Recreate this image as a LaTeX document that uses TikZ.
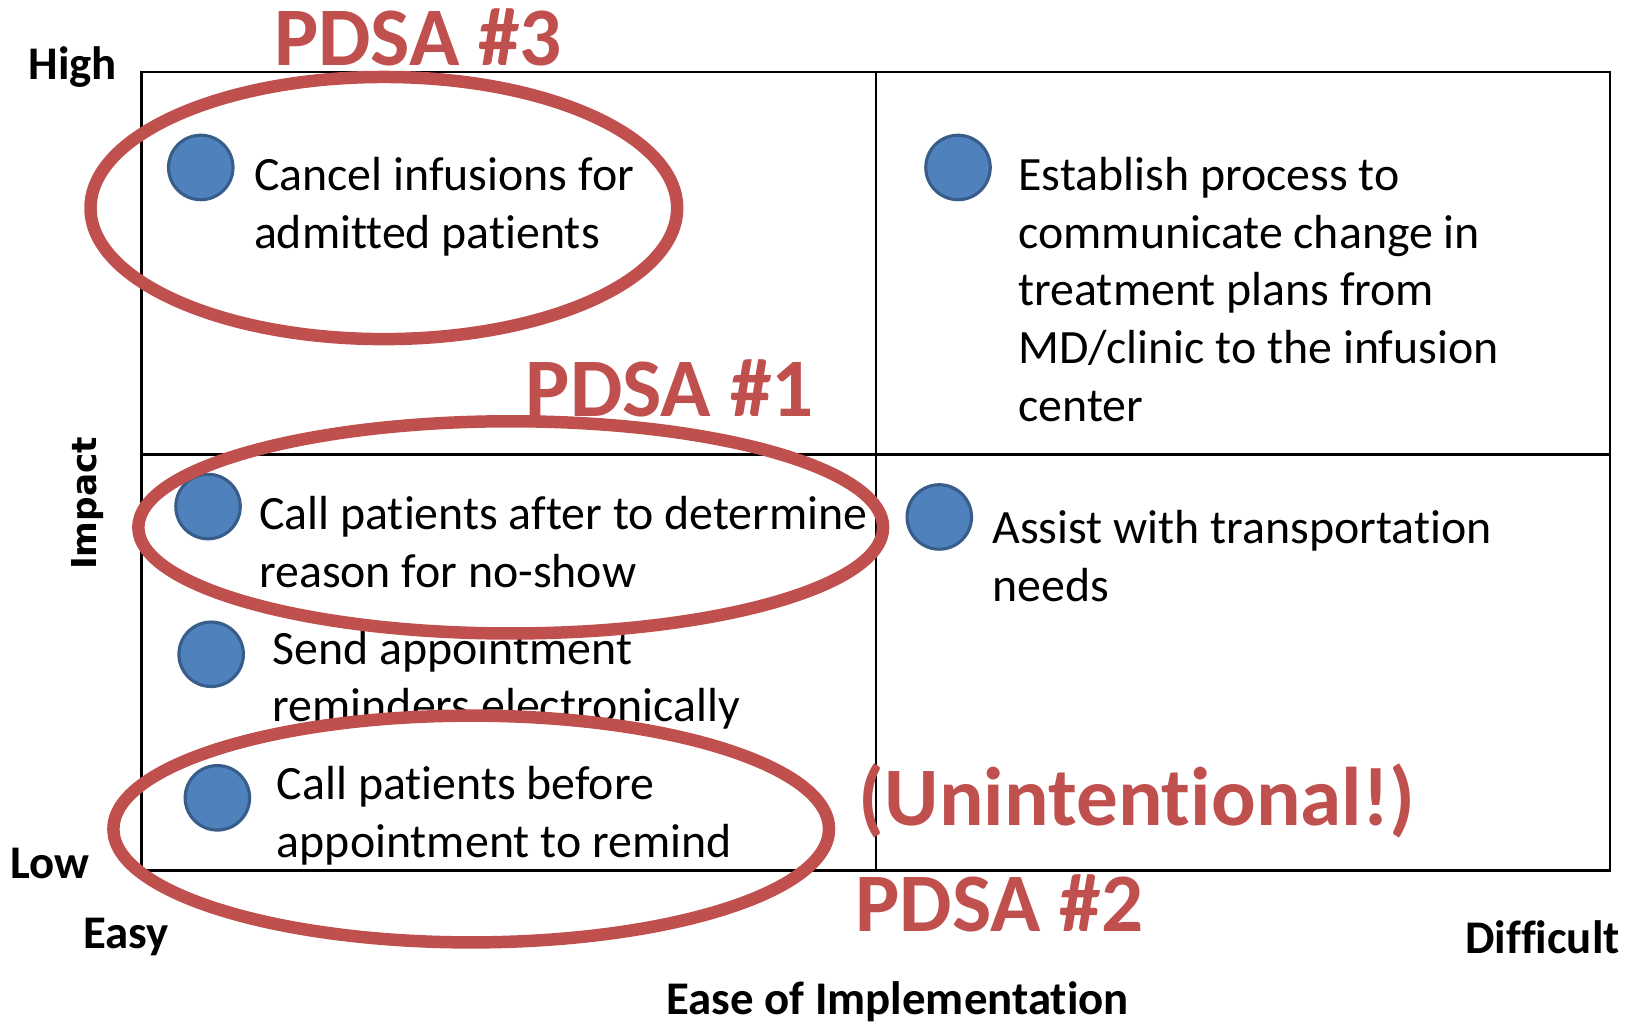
\documentclass[tikz,border=0pt]{standalone}
\usepackage{fontspec}
\setmainfont[Ligatures=NoCommon]{Carlito}
\newfontfamily\impactfont{DejaVu Sans}
\usetikzlibrary{positioning}

\definecolor{pdsared}{HTML}{C0504D}
\definecolor{dotblue}{HTML}{4F81BD}
\definecolor{dotrim}{HTML}{385D8A}

\begin{document}
\begin{tikzpicture}[x=1pt, y=-1pt,
    grid/.style = {line width=2.2pt},
    dot/.style = {circle, draw=dotrim, line width=3pt, fill=dotblue, minimum size=62pt, inner sep=0pt},
    idea/.style = {font=\fontsize{46}{55.5}\selectfont, align=left, inner sep=0pt, anchor=base west},
    loop/.style = {draw=pdsared, line width=12pt},
    pdsa/.style = {font=\fontsize{80}{80}\selectfont\bfseries, text=pdsared, inner sep=0pt},
    axis/.style = {font=\fontsize{45}{54}\selectfont\bfseries, inner sep=0pt}]

    \useasboundingbox (0,0) rectangle (1568,984);

    % Coordinates
    \coordinate (NW) at (136,69);
    \coordinate (SE) at (1548,837);
    \coordinate (N) at (842,69);
    \coordinate (S) at (842,837);
    \coordinate (W) at (136,437);
    \coordinate (E) at (1548,437);

    % Quadrants
    \draw [grid] (NW) rectangle (SE);
    \draw [grid] (N) -- (S);
    \draw [grid] (W) -- (E);

    % Ideas (anchored at the baseline of the last line)
    \node [dot] (d1) at (193,161) {};
    \node [idea] (t1) at (244,239) {Cancel infusions for\\admitted patients};
    \node [dot] (d2) at (921,161) {};
    \node [idea] (t2) at (979,405) {Establish process to\\communicate change in\\treatment plans from\\MD/clinic to the infusion\\center};
    \node [dot] (d3) at (200,487) {};
    \node [idea] (t3) at (249,565) {Call patients after to determine\\reason for no-show};
    \node [dot] (d4) at (903,497) {};
    \node [idea] (t4) at (954,578) {Assist with transportation\\needs};
    \node [dot] (d5) at (203,629) {};
    \node [idea] (t5) at (262,694) {Send appointment\\reminders electronically};
    \node [dot] (d6) at (209,767) {};
    \node [idea] (t6) at (266,824) {Call patients before\\appointment to remind};

    % PDSA loops
    \draw [loop] (369,200) ellipse [x radius=282, y radius=126];
    \draw [loop] (491,507) ellipse [x radius=358, y radius=102];
    \draw [loop] (453,797) ellipse [x radius=344, y radius=109];

    \node [pdsa] (p3) at (402,36) {PDSA \#3};
    \node [pdsa] (p1) at (644,373) {PDSA \#1};
    \node [pdsa] (un) at (1093,770) {(Unintentional!)};
    \node [pdsa] (p2) at (961,868) {PDSA \#2};

    % Axes
    \node [axis] (high) at (70,64) {High};
    \node [axis] (low) at (48,830) {Low};
    \node [axis] (easy) at (121,901) {Easy};
    \node [axis] (hard) at (1483,901) {Difficult};
    \node [axis] (ease) at (863,963) {Ease of Implementation};
    \node [font=\fontsize{33}{40}\impactfont\bfseries, rotate=90, inner sep=0pt] (impact) at (84,484) {Impact};

\end{tikzpicture}
\end{document}
